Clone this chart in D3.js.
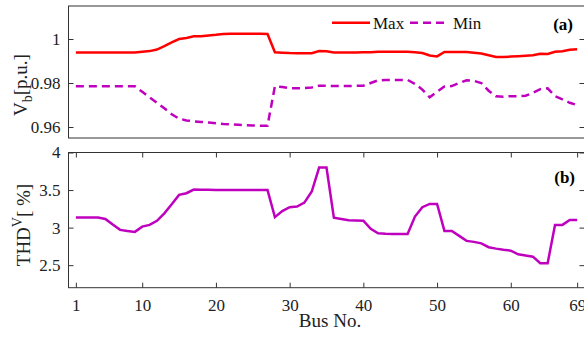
<!DOCTYPE html>
<html>
<head>
<meta charset="utf-8">
<script src="https://cdn.jsdelivr.net/npm/d3@7"></script>
<style>
  body { margin: 0; background: #fff; }
  svg { display: block; font-family: "Liberation Serif", "Times New Roman", serif; }
</style>
</head>
<body>
<svg id="chart" width="584" height="337"></svg>
<script>
// bus numbers 1..69
const buses = d3.range(1, 70);

const vMax = [
  0.9939, 0.9939, 0.9939, 0.9939, 0.9939, 0.9939, 0.9939, 0.9939, 0.9939, 0.9942,
  0.9945, 0.9952, 0.9968, 0.9985, 1.0000, 1.0005, 1.0012, 1.0013, 1.0016, 1.0019,
  1.0023, 1.0024, 1.0024, 1.0024, 1.0024, 1.0024, 1.0023, 0.9940, 0.9938, 0.9936,
  0.9935, 0.9935, 0.9935, 0.9945, 0.9944, 0.9939, 0.9939, 0.9939, 0.9939, 0.9940,
  0.9940, 0.9942, 0.9942, 0.9942, 0.9942, 0.9942, 0.9940, 0.9936, 0.9925, 0.9921,
  0.9941, 0.9941, 0.9941, 0.9941, 0.9938, 0.9934, 0.9926, 0.9918, 0.9918, 0.9920,
  0.9922, 0.9924, 0.9926, 0.9933, 0.9932, 0.9942, 0.9944, 0.9951, 0.9953
];

const vMin = [
  0.9785, 0.9785, 0.9785, 0.9785, 0.9785, 0.9785, 0.9785, 0.9785, 0.9785, 0.9760,
  0.9735, 0.9710, 0.9685, 0.9658, 0.9638, 0.9630, 0.9626, 0.9623, 0.9620, 0.9617,
  0.9614, 0.9612, 0.9610, 0.9608, 0.9607, 0.9606, 0.9606, 0.9785, 0.9782, 0.9776,
  0.9776, 0.9777, 0.9780, 0.9788, 0.9788, 0.9786, 0.9786, 0.9786, 0.9788, 0.9788,
  0.9800, 0.9812, 0.9814, 0.9814, 0.9814, 0.9814, 0.9796, 0.9770, 0.9735, 0.9760,
  0.9784, 0.9786, 0.9800, 0.9812, 0.9810, 0.9800, 0.9765, 0.9740, 0.9738, 0.9740,
  0.9740, 0.9742, 0.9755, 0.9772, 0.9776, 0.9740, 0.9726, 0.9710, 0.9700
];

const thd = [
  3.133, 3.133, 3.133, 3.133, 3.116, 3.040, 2.970, 2.955, 2.943, 3.013,
  3.036, 3.090, 3.190, 3.310, 3.436, 3.458, 3.507, 3.505, 3.503, 3.502,
  3.500, 3.500, 3.500, 3.500, 3.500, 3.500, 3.500, 3.139, 3.220, 3.272,
  3.280, 3.333, 3.480, 3.800, 3.800, 3.133, 3.115, 3.098, 3.095, 3.093,
  2.983, 2.925, 2.918, 2.916, 2.916, 2.916, 3.147, 3.272, 3.316, 3.316,
  2.956, 2.956, 2.890, 2.823, 2.810, 2.790, 2.739, 2.720, 2.705, 2.693,
  2.645, 2.630, 2.613, 2.525, 2.525, 3.036, 3.036, 3.103, 3.103
];

const xTicks = [1, 10, 20, 30, 40, 50, 60, 69];
const vTicks = [0.96, 0.98, 1];
const thdTicks = [2.5, 3, 3.5, 4];

const red = "#ff0000", magenta = "#bf00bf", axisColor = "#333";

const svg = d3.select("#chart");
svg.append("rect").attr("width", 584).attr("height", 337).attr("fill", "#fff");

const left = 68.5, right = 584.5;
const x = d3.scaleLinear().domain([0, 70]).range([left, right]);
const yA = d3.scaleLinear().domain([0.955, 1.015]).range([138, 6]);
const yB = d3.scaleLinear().domain([2.2, 4]).range([287.7, 152.5]);

function box(y) {
  const [b, t] = y.range();
  svg.append("rect")
    .attr("x", left).attr("y", t)
    .attr("width", right - left).attr("height", b - t)
    .attr("fill", "none").attr("stroke", axisColor).attr("stroke-width", 1);
}

function yAxes(y, ticks, fmt) {
  const gl = svg.append("g").attr("transform", `translate(${left},0)`)
    .call(d3.axisLeft(y).tickValues(ticks).tickFormat(fmt).tickSize(-5).tickPadding(8));
  const gr = svg.append("g").attr("transform", `translate(${right},0)`)
    .call(d3.axisRight(y).tickValues(ticks).tickSize(-5).tickFormat(""));
  [gl, gr].forEach(g => {
    g.select(".domain").remove();
    g.selectAll("line").attr("stroke", axisColor);
    g.selectAll("text").attr("font-size", 17).attr("fill", "#222")
      .attr("font-family", "Liberation Serif");
  });
}

// ---- panel (a)
box(yA);
yAxes(yA, vTicks, d => d === 1 ? "1" : d3.format(".2f")(d));

const lineA = (vals) => d3.line().x((d, i) => x(buses[i])).y(d => yA(d))(vals);
svg.append("path").attr("d", lineA(vMin)).attr("fill", "none")
  .attr("stroke", magenta).attr("stroke-width", 2.5).attr("stroke-dasharray", "8,5");
svg.append("path").attr("d", lineA(vMax)).attr("fill", "none")
  .attr("stroke", red).attr("stroke-width", 2.5);

// legend
const leg = svg.append("g").attr("font-size", 17).attr("fill", "#111");
leg.append("line").attr("x1", 332).attr("x2", 370).attr("y1", 22.7).attr("y2", 22.7)
  .attr("stroke", red).attr("stroke-width", 2.5);
leg.append("text").attr("x", 373).attr("y", 29).text("Max");
leg.append("line").attr("x1", 410).attr("x2", 448).attr("y1", 22.7).attr("y2", 22.7)
  .attr("stroke", magenta).attr("stroke-width", 2.5).attr("stroke-dasharray", "8,5");
leg.append("text").attr("x", 453).attr("y", 29).text("Min");

svg.append("text").attr("x", 573).attr("y", 30).attr("text-anchor", "end")
  .attr("font-size", 17).attr("font-weight", "bold").text("(a)");

// y label (a)
const la = svg.append("text").attr("transform", "translate(27,85) rotate(-90)")
  .attr("text-anchor", "middle").attr("font-size", 19).attr("fill", "#222");
la.append("tspan").text("V");
la.append("tspan").attr("dy", 5).attr("font-size", 14).text("b");
la.append("tspan").attr("dy", -5).text("[p.u.]");

// ---- panel (b)
box(yB);
yAxes(yB, thdTicks, d => String(d));

const gx = svg.append("g").attr("transform", `translate(0,${yB.range()[0]})`)
  .call(d3.axisBottom(x).tickValues(xTicks).tickSize(-5).tickPadding(11));
const gxt = svg.append("g").attr("transform", `translate(0,${yB.range()[1]})`)
  .call(d3.axisTop(x).tickValues(xTicks).tickSize(-5).tickFormat(""));
[gx, gxt].forEach(g => {
  g.select(".domain").remove();
  g.selectAll("line").attr("stroke", axisColor);
  g.selectAll("text").attr("font-size", 17).attr("fill", "#222")
    .attr("font-family", "Liberation Serif");
});

svg.append("path")
  .attr("d", d3.line().x((d, i) => x(buses[i])).y(d => yB(d))(thd))
  .attr("fill", "none").attr("stroke", magenta).attr("stroke-width", 2.5);

svg.append("text").attr("x", 575).attr("y", 183).attr("text-anchor", "end")
  .attr("font-size", 17).attr("font-weight", "bold").text("(b)");

const lb = svg.append("text").attr("transform", "translate(30,225) rotate(-90)")
  .attr("text-anchor", "middle").attr("font-size", 19).attr("fill", "#222");
lb.append("tspan").text("THD");
lb.append("tspan").attr("dy", -8).attr("font-size", 14).text("V");
lb.append("tspan").attr("dy", 8).text("[ %]");

svg.append("text").attr("x", 330).attr("y", 327).attr("text-anchor", "middle")
  .attr("font-size", 19).attr("fill", "#222").text("Bus No.");
</script>
</body>
</html>
